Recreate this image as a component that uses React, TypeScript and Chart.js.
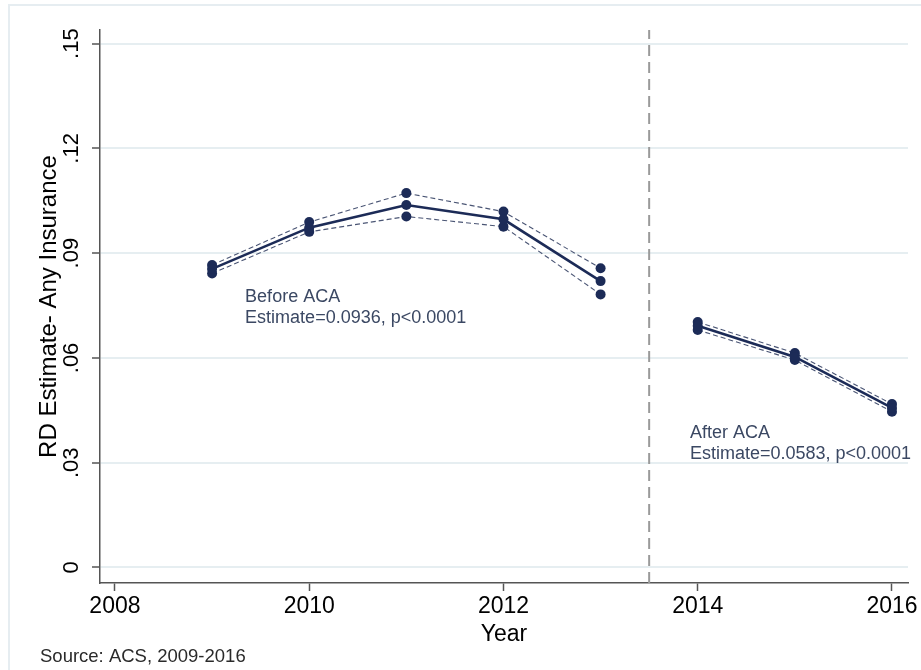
import React, { useEffect, useRef } from "react";
import { Chart, registerables } from "chart.js";

Chart.register(...registerables);

// Regression-discontinuity estimates by survey year, with 95% bounds
const years = [2009, 2010, 2011, 2012, 2013, 2014, 2015, 2016];
const estimate = [0.0855, 0.0973, 0.1038, 0.0997, 0.082, 0.0692, 0.0603, 0.0457];
const upperCI = [0.0866, 0.0989, 0.1072, 0.1019, 0.0857, 0.0703, 0.0614, 0.0468];
const lowerCI = [0.0842, 0.0961, 0.1005, 0.0976, 0.0782, 0.068, 0.0594, 0.0446];

// ACA expansion falls between the 2013 and 2014 survey years
const acaCutoff = 2013.5;

const xTicks = [2008, 2010, 2012, 2014, 2016];
const yTicks = [0, 0.03, 0.06, 0.09, 0.12, 0.15];
const yTickLabels = ["0", ".03", ".06", ".09", ".12", ".15"];
const xRange = [2007.846, 2016.165];
const yRange = [-0.00444, 0.1539];

const periodNotes = [
  { x: 2009.34, y: 0.0774, lines: ["Before ACA", "Estimate=0.0936, p<0.0001"] },
  { x: 2013.92, y: 0.0385, lines: ["After ACA", "Estimate=0.0583, p<0.0001"] },
];
const sourceNote = "Source: ACS, 2009-2016";

const NAVY = "#1c2b57";
const CI_COLOR = "#4a5574";
const FONT = "'Liberation Sans', Arial, sans-serif";

const pointsFor = (vals: number[], from: number, to: number) =>
  years.slice(from, to).map((yr, i) => ({ x: yr, y: vals[from + i] }));

const splitIdx = years.findIndex((y) => y > acaCutoff);

const lineSet = (label: string, data: { x: number; y: number }[], main: boolean) => ({
  label,
  data,
  borderColor: main ? NAVY : CI_COLOR,
  borderWidth: main ? 2.6 : 1.1,
  borderDash: main ? [] : [5, 3],
  pointRadius: 5,
  pointBackgroundColor: NAVY,
  pointBorderColor: NAVY,
  pointBorderWidth: 0,
  tension: 0,
  order: main ? 1 : 2,
});

const framePlugin = {
  id: "frame",
  beforeDraw(chart: any) {
    const { ctx, width, height } = chart;
    ctx.save();
    ctx.fillStyle = "#ffffff";
    ctx.fillRect(0, 0, width, height);
    ctx.strokeStyle = "#e6edf1";
    ctx.lineWidth = 2;
    ctx.beginPath();
    ctx.moveTo(9, height);
    ctx.lineTo(9, 5);
    ctx.lineTo(width, 5);
    ctx.stroke();
    ctx.restore();
  },
};

const notesPlugin = {
  id: "notes",
  afterDraw(chart: any) {
    const { ctx, scales } = chart;
    ctx.save();
    ctx.fillStyle = "#3b4863";
    ctx.font = `18px ${FONT}`;
    ctx.textBaseline = "middle";
    ctx.textAlign = "left";
    periodNotes.forEach((n) => {
      const px = scales.x.getPixelForValue(n.x);
      const py = scales.y.getPixelForValue(n.y);
      n.lines.forEach((t, i) => ctx.fillText(t, px, py + i * 20.5));
    });
    ctx.fillStyle = "#2a2a2a";
    ctx.font = `18.5px ${FONT}`;
    ctx.fillText(sourceNote, 40, 657);
    ctx.restore();
  },
};

export default function App() {
  const ref = useRef<HTMLCanvasElement>(null);

  useEffect(() => {
    if (!ref.current) return;
    const chart = new Chart(ref.current, {
      type: "line",
      data: {
        datasets: [
          {
            label: "ACA",
            data: [
              { x: acaCutoff, y: yRange[0] },
              { x: acaCutoff, y: yRange[1] },
            ],
            borderColor: "#9a9a9a",
            borderWidth: 2,
            borderDash: [11, 6],
            pointRadius: 0,
            order: 3,
          },
          lineSet("upper-pre", pointsFor(upperCI, 0, splitIdx), false),
          lineSet("lower-pre", pointsFor(lowerCI, 0, splitIdx), false),
          lineSet("estimate-pre", pointsFor(estimate, 0, splitIdx), true),
          lineSet("upper-post", pointsFor(upperCI, splitIdx, years.length), false),
          lineSet("lower-post", pointsFor(lowerCI, splitIdx, years.length), false),
          lineSet("estimate-post", pointsFor(estimate, splitIdx, years.length), true),
        ] as any,
      },
      options: {
        responsive: false,
        animation: false,
        devicePixelRatio: 1,
        layout: { padding: { left: 10, top: 30, right: 13, bottom: 0 } },
        plugins: {
          legend: { display: false },
          tooltip: { enabled: false },
        },
        scales: {
          x: {
            type: "linear",
            min: xRange[0],
            max: xRange[1],
            afterBuildTicks: (s: any) => {
              s.ticks = xTicks.map((v) => ({ value: v }));
            },
            afterFit: (s: any) => {
              s.height = 87;
            },
            ticks: {
              color: "#000000",
              font: { family: FONT, size: 23 },
              padding: 2,
              maxRotation: 0,
              callback: (v: any) => String(v),
            },
            grid: {
              drawOnChartArea: false,
              tickLength: 8,
              tickColor: "#555555",
              tickWidth: 1.5,
            },
            border: { color: "#555555", width: 1.5 },
            title: {
              display: true,
              text: "Year",
              color: "#000000",
              font: { family: FONT, size: 23 },
              padding: { top: 0, bottom: 22 },
            },
          },
          y: {
            type: "linear",
            min: yRange[0],
            max: yRange[1],
            afterBuildTicks: (s: any) => {
              s.ticks = yTicks.map((v) => ({ value: v }));
            },
            afterFit: (s: any) => {
              s.width = 90;
            },
            ticks: {
              color: "#000000",
              font: { family: FONT, size: 22 },
              padding: 5,
              minRotation: 90,
              maxRotation: 90,
              crossAlign: "center",
              callback: (v: any) => {
                const i = yTicks.findIndex((t) => Math.abs(t - v) < 1e-9);
                return i >= 0 ? yTickLabels[i] : "";
              },
            },
            grid: {
              color: "#e6eef1",
              lineWidth: 2,
              tickLength: 8,
              tickColor: "#555555",
              tickWidth: 1.5,
            },
            border: { color: "#555555", width: 1.5 },
            title: {
              display: true,
              text: "RD Estimate- Any Insurance",
              color: "#000000",
              font: { family: FONT, size: 24 },
              padding: { top: 25, bottom: 0 },
            },
          },
        },
      },
      plugins: [framePlugin, notesPlugin],
    });
    return () => chart.destroy();
  }, []);

  return (
    <div style={{ position: "fixed", left: 0, top: 0, width: 921, height: 670, background: "#fff" }}>
      <canvas ref={ref} width={921} height={670} style={{ display: "block" }} />
    </div>
  );
}
